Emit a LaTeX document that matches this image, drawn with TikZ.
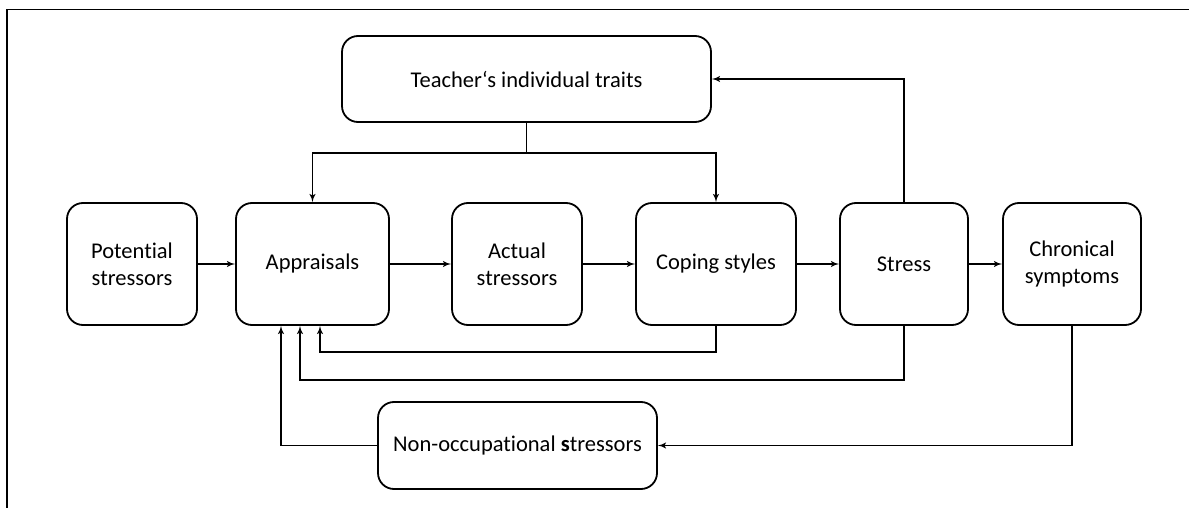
\documentclass[tikz,border=0pt]{standalone}
\usepackage{fontspec}
\setmainfont{Carlito}[Ligatures=NoCommon]
\usetikzlibrary{shapes,arrows,positioning,calc}

\begin{document}
\begin{tikzpicture}[
        x=1pt, y=-1pt,
        box/.style={rectangle, draw, fill=white, rounded corners=16pt, align=center, inner sep=0pt, line width=1.8pt, font=\fontsize{22.5}{27}\selectfont},
        arrow/.style={draw, -latex', line width=1.8pt},
        frameline/.style={draw, line width=1.8pt}
    ]
    \useasboundingbox (0,0) rectangle (1189,508);

    % Frame
    \path [frameline] (1189,9.5) -- (7,9.5) -- (7,508);

    % Traits on top
    \node [box, minimum width=369pt, minimum height=86pt] (traits) at (526.5,79) {Teacher‘s individual traits};

    % Main chain
    \node [box, minimum width=130pt, minimum height=122pt] (potential) at (132,264) {Potential\\stressors};
    \node [box, minimum width=153pt, minimum height=122pt] (appraisals) at (312.5,264) {Appraisals};
    \node [box, minimum width=130pt, minimum height=122pt] (actual) at (517,264) {Actual\\stressors};
    \node [box, minimum width=160pt, minimum height=122pt] (coping) at (716,264) {Coping styles};
    \node [box, minimum width=128pt, minimum height=122pt] (stress) at (904,264) {Stress};
    \node [box, minimum width=138pt, minimum height=122pt] (chronic) at (1072,264) {Chronical\\symptoms};

    % Non-occupational stressors
    \node [box, minimum width=279pt, minimum height=87pt] (nonocc) at (517.5,445.5) {Non-occupational \textbf{s}tressors};

    % Main flow arrows
    \path [arrow] (potential) -- (appraisals);
    \path [arrow] (appraisals) -- (actual);
    \path [arrow] (actual) -- (coping);
    \path [arrow] (coping) -- (stress);
    \path [arrow] (stress) -- (chronic);

    % Traits feed appraisals and coping
    \path [frameline] (traits.south) -- ++(0,30) coordinate (split);
    \path [arrow] (split) -| (appraisals.north);
    \path [arrow] (split) -| (coping.north);

    % Stress back to traits
    \path [arrow] (stress.north) |- (traits.east);

    % Feedback loops to appraisals
    \path [arrow] (coping.south) -- ++(0,26) -| ($(appraisals.south)+(7.5,0)$);
    \path [arrow] (stress.south) -- ++(0,54) -| ($(appraisals.south)+(-12.5,0)$);
    \path [arrow] (chronic.south) |- (nonocc.east);
    \path [arrow] (nonocc.west) -| ($(appraisals.south)+(-31.5,0)$);

\end{tikzpicture}
\end{document}
